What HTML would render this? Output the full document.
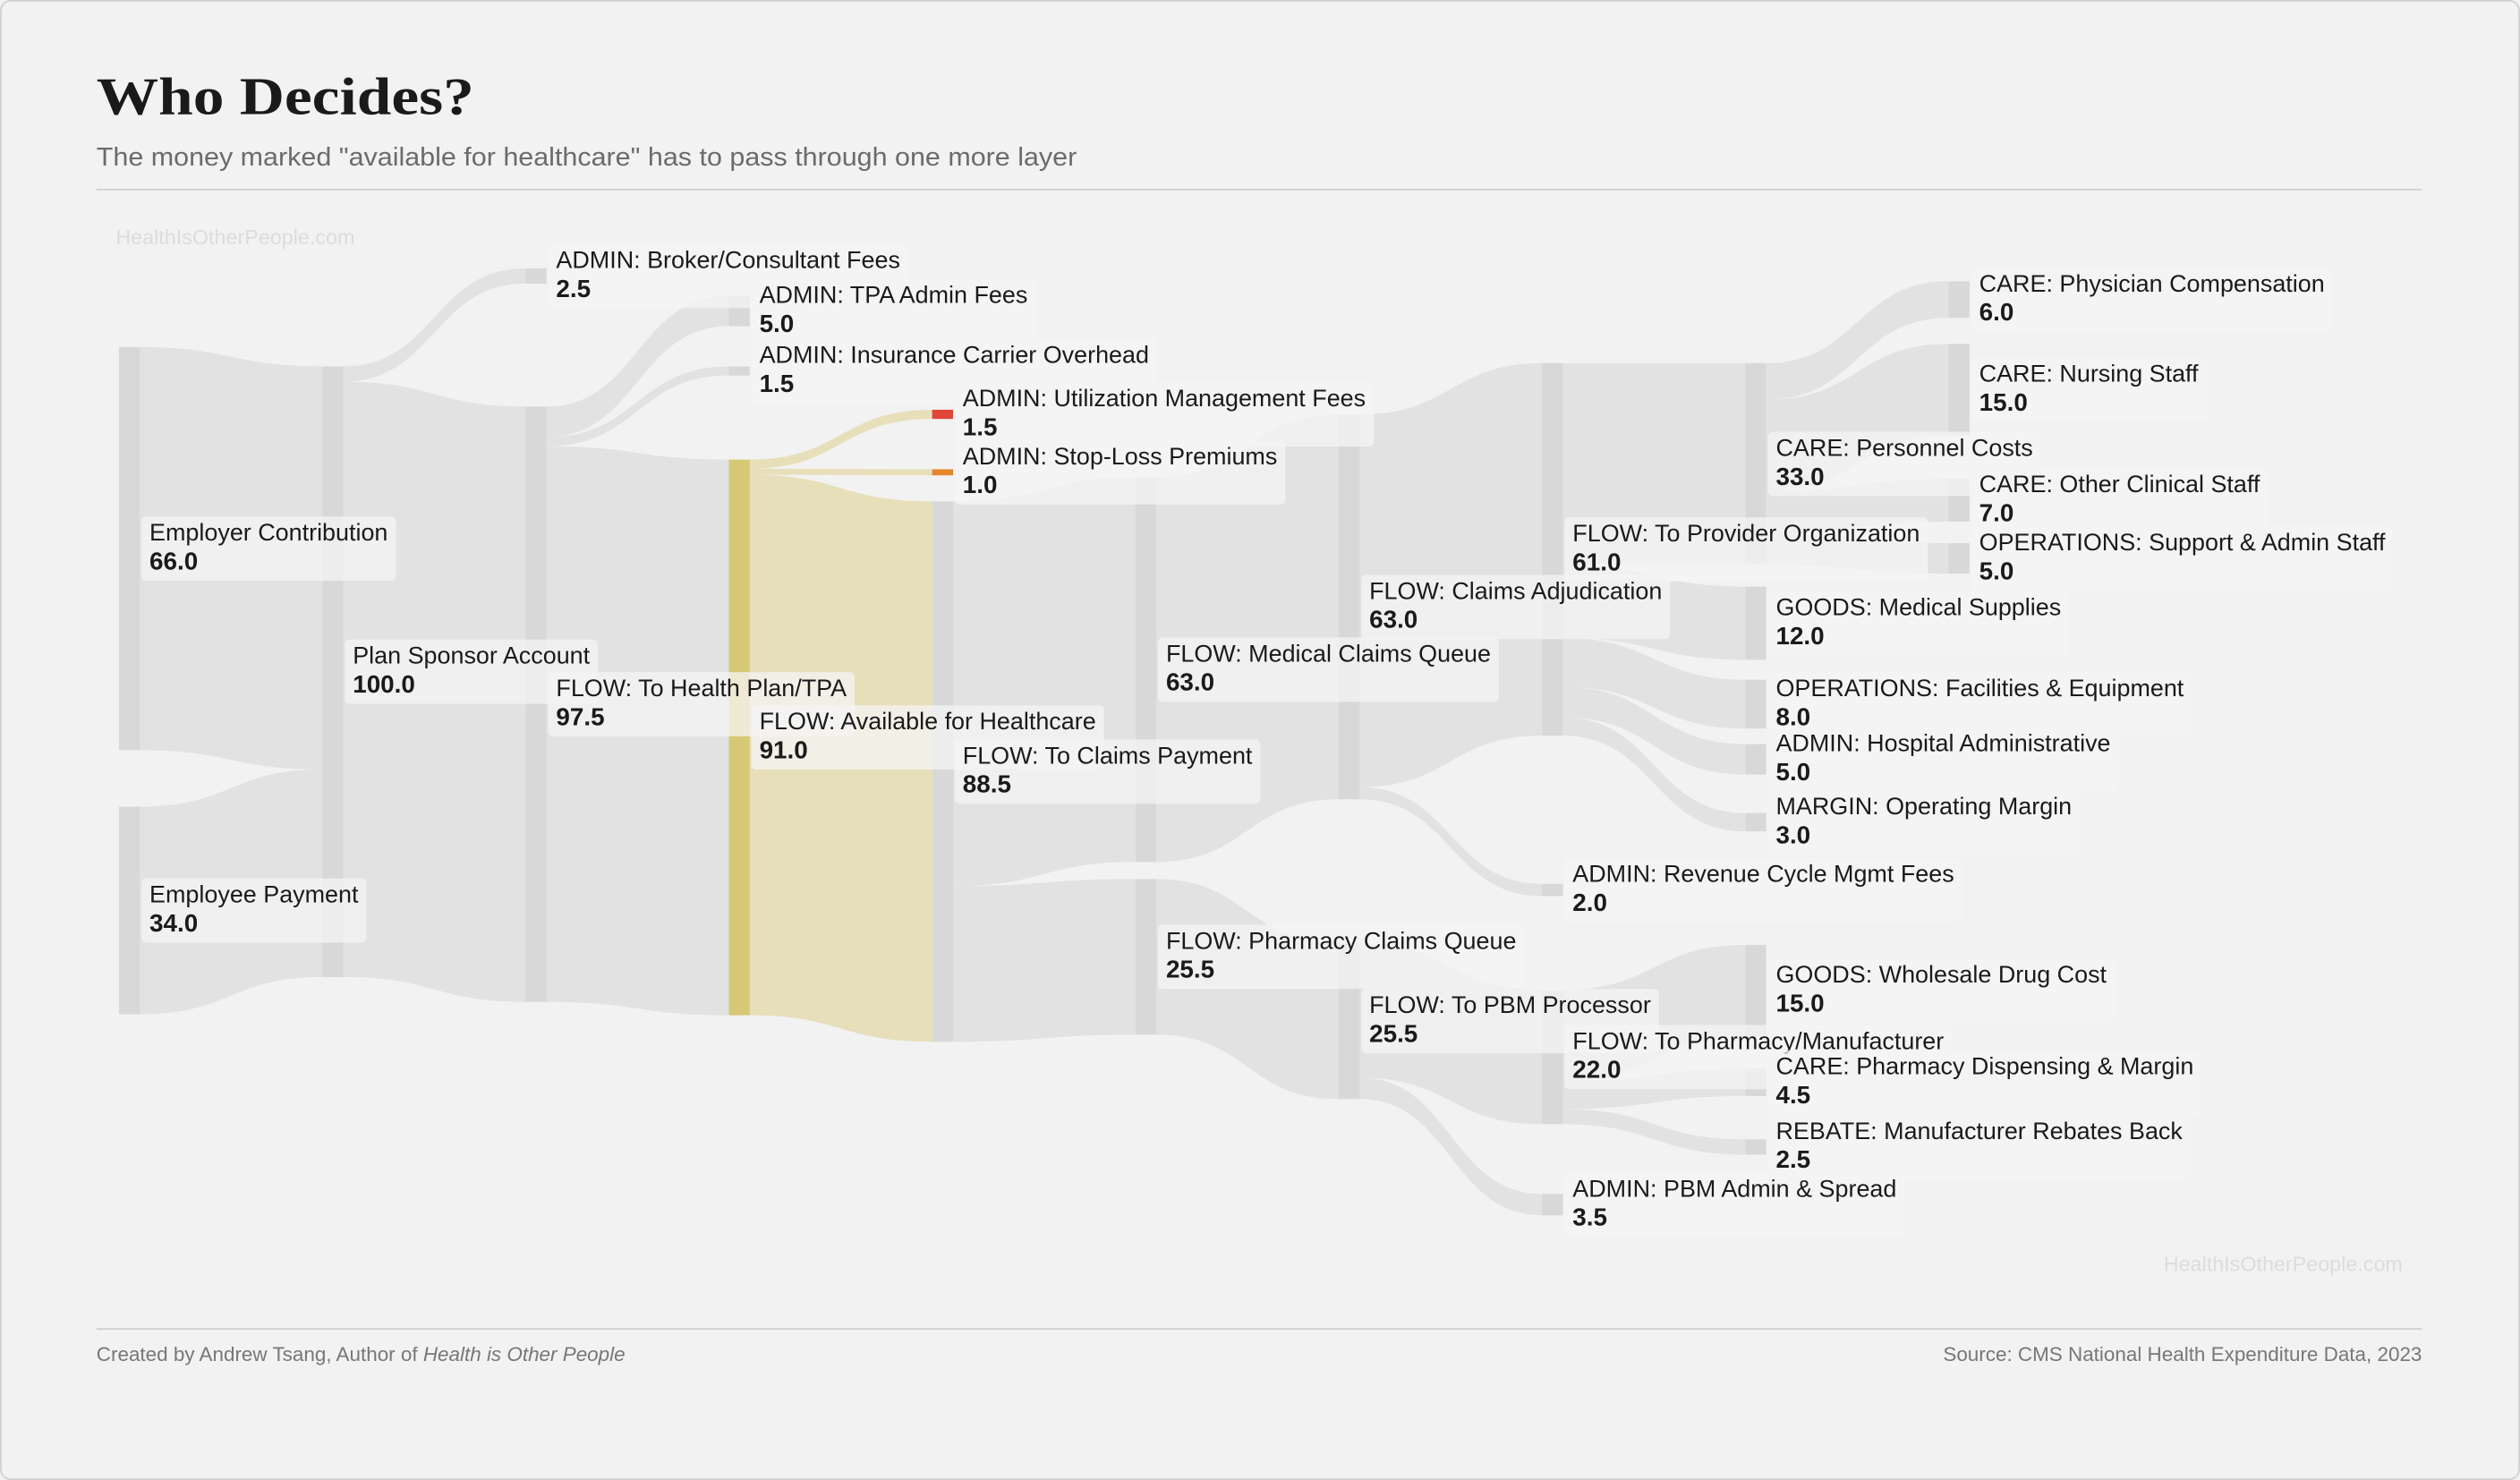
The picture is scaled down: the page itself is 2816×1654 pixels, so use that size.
<!DOCTYPE html>
<html><head><meta charset="utf-8"><style>
html,body{margin:0;padding:0;background:#f2f2f2;}
svg{display:block;}
</style></head><body>
<svg id="chart" width="2816" height="1654" viewBox="0 0 1568 921" xmlns="http://www.w3.org/2000/svg" font-family="'Liberation Sans', sans-serif">
<rect x="0.5" y="0.5" width="1567" height="920" rx="6" fill="#f2f2f2" stroke="#d0d0d0"/>
<text x="60" y="71" font-family="'Liberation Serif', serif" font-weight="bold" font-size="33" fill="#1a1a1a" textLength="235" lengthAdjust="spacingAndGlyphs">Who Decides?</text>
<text x="60" y="103" font-size="16" fill="#6b6b6b" textLength="610" lengthAdjust="spacingAndGlyphs">The money marked "available for healthcare" has to pass through one more layer</text>
<line x1="60" y1="118" x2="1507" y2="118" stroke="#cfcfcf"/>
<text x="72" y="152" font-size="13" fill="#dcdcdc">HealthIsOtherPeople.com</text>
<text x="1495" y="791" font-size="13" fill="#dcdcdc" text-anchor="end">HealthIsOtherPeople.com</text>
<line x1="60" y1="827" x2="1507" y2="827" stroke="#cfcfcf"/>
<text x="60" y="847" font-size="12.5" fill="#777">Created by Andrew Tsang, Author of <tspan font-style="italic">Health is Other People</tspan></text>
<text x="1507" y="847" font-size="12.5" fill="#777" text-anchor="end">Source: CMS National Health Expenditure Data, 2023</text>
<g id="links"></g><g id="nodes"></g><g id="labels"></g>
</svg>
<script>
const nodeNames = ["Employer Contribution","Employee Payment","Plan Sponsor Account","ADMIN: Broker/Consultant Fees","FLOW: To Health Plan/TPA","ADMIN: TPA Admin Fees","ADMIN: Insurance Carrier Overhead","FLOW: Available for Healthcare","ADMIN: Utilization Management Fees","ADMIN: Stop-Loss Premiums","FLOW: To Claims Payment","FLOW: Medical Claims Queue","FLOW: Pharmacy Claims Queue","FLOW: Claims Adjudication","FLOW: To PBM Processor","FLOW: To Provider Organization","ADMIN: Revenue Cycle Mgmt Fees","FLOW: To Pharmacy/Manufacturer","ADMIN: PBM Admin & Spread","CARE: Personnel Costs","GOODS: Medical Supplies","OPERATIONS: Facilities & Equipment","ADMIN: Hospital Administrative","MARGIN: Operating Margin","GOODS: Wholesale Drug Cost","CARE: Pharmacy Dispensing & Margin","REBATE: Manufacturer Rebates Back","CARE: Physician Compensation","CARE: Nursing Staff","CARE: Other Clinical Staff","OPERATIONS: Support & Admin Staff"];
const nodeValues = [66,34,100,2.5,97.5,5,1.5,91,1.5,1,88.5,63,25.5,63,25.5,61,2,22,3.5,33,12,8,5,3,15,4.5,2.5,6,15,7,5];
const linkSources = [0,1,2,2,4,4,4,7,7,7,10,10,11,12,13,13,15,15,15,15,15,19,19,19,19,14,14,17,17,17];
const linkTargets = [2,2,3,4,5,6,7,8,9,10,11,12,13,14,15,16,19,20,21,22,23,27,28,29,30,17,18,24,25,26];
const linkValues = [66,34,2.5,97.5,5,1.5,91,1.5,1,88.5,63,25.5,63,25.5,61,2,33,12,8,5,3,6,15,7,5,22,3.5,15,4.5,2.5];
// layout (not data): column index and top position of each node
const nodeCol = [0,0,1,2,2,3,3,3,4,4,4,5,5,6,6,7,7,7,7,8,8,8,8,8,8,8,8,9,9,9,9];
const nodeTop = [216,502,228,167,253,184,228,286,255,292,312,297,547,258,587,226,550,616,743,226,365,423,463,506,588,665,709,175,214,298,338];
const colX = c => 74 + c*126.5;
const k = 3.8, NW = 13;
const NS = "http://www.w3.org/2000/svg";
const gL = document.getElementById('links'), gN = document.getElementById('nodes'), gT = document.getElementById('labels');
const yellowSet = new Set([7]);
function nodeFill(i){ if(i===7) return "#d6c874"; if(i===8) return "#e0463a"; if(i===9) return "#e5862e"; return "#d8d8d8"; }
const outOff = nodeValues.map(()=>0), inOff = nodeValues.map(()=>0);
const order = linkValues.map((v,i)=>i);
const outOrder = order.slice().sort((a,b)=>nodeTop[linkTargets[a]]-nodeTop[linkTargets[b]]);
const ys0 = [], ys1 = [];
outOrder.forEach(i=>{ const s=linkSources[i]; ys0[i]=nodeTop[s]+outOff[s]; outOff[s]+=linkValues[i]*k; });
const inOrder = order.slice().sort((a,b)=>nodeTop[linkSources[a]]-nodeTop[linkSources[b]]);
inOrder.forEach(i=>{ const t=linkTargets[i]; ys1[i]=nodeTop[t]+inOff[t]; inOff[t]+=linkValues[i]*k; });
order.forEach(i=>{
  const s=linkSources[i], t=linkTargets[i], h=linkValues[i]*k;
  const x0=colX(nodeCol[s])+NW, x1=colX(nodeCol[t]), xm=(x0+x1)/2;
  const a=ys0[i], b=ys1[i];
  const p=document.createElementNS(NS,'path');
  p.setAttribute('d',`M${x0},${a}C${xm},${a} ${xm},${b} ${x1},${b}L${x1},${b+h}C${xm},${b+h} ${xm},${a+h} ${x0},${a+h}Z`);
  p.setAttribute('fill', yellowSet.has(s) ? 'rgba(222,208,140,0.55)' : 'rgba(205,205,205,0.42)');
  
  
  gL.appendChild(p);
});
nodeNames.forEach((n,i)=>{
  const x=colX(nodeCol[i]), y=nodeTop[i], h=nodeValues[i]*k;
  const r=document.createElementNS(NS,'rect');
  r.setAttribute('x',x); r.setAttribute('y',y); r.setAttribute('width',NW); r.setAttribute('height',h);
  r.setAttribute('fill',nodeFill(i));
  
  
  gN.appendChild(r);
  const c=y+h/2, lx=x+NW+6;
  const g=document.createElementNS(NS,'g');
  
  
  const bg=document.createElementNS(NS,'rect');
  bg.setAttribute('x',lx-5); bg.setAttribute('y',c-20); bg.setAttribute('height',40); bg.setAttribute('rx',3);
  bg.setAttribute('fill','rgba(244,244,244,0.75)');
  g.appendChild(bg);
  const t1=document.createElementNS(NS,'text');
  t1.setAttribute('x',lx); t1.setAttribute('y',c-5); t1.setAttribute('font-size','15'); t1.setAttribute('fill','#1a1a1a');
  t1.textContent=n; g.appendChild(t1);
  const t2=document.createElementNS(NS,'text');
  t2.setAttribute('x',lx); t2.setAttribute('y',c+13); t2.setAttribute('font-size','15.5'); t2.setAttribute('font-weight','bold'); t2.setAttribute('fill','#1a1a1a');
  t2.textContent=nodeValues[i].toFixed(1); g.appendChild(t2);
  gT.appendChild(g);
  bg.setAttribute('width', t1.getComputedTextLength()+10);
});
</script>
</body></html>
